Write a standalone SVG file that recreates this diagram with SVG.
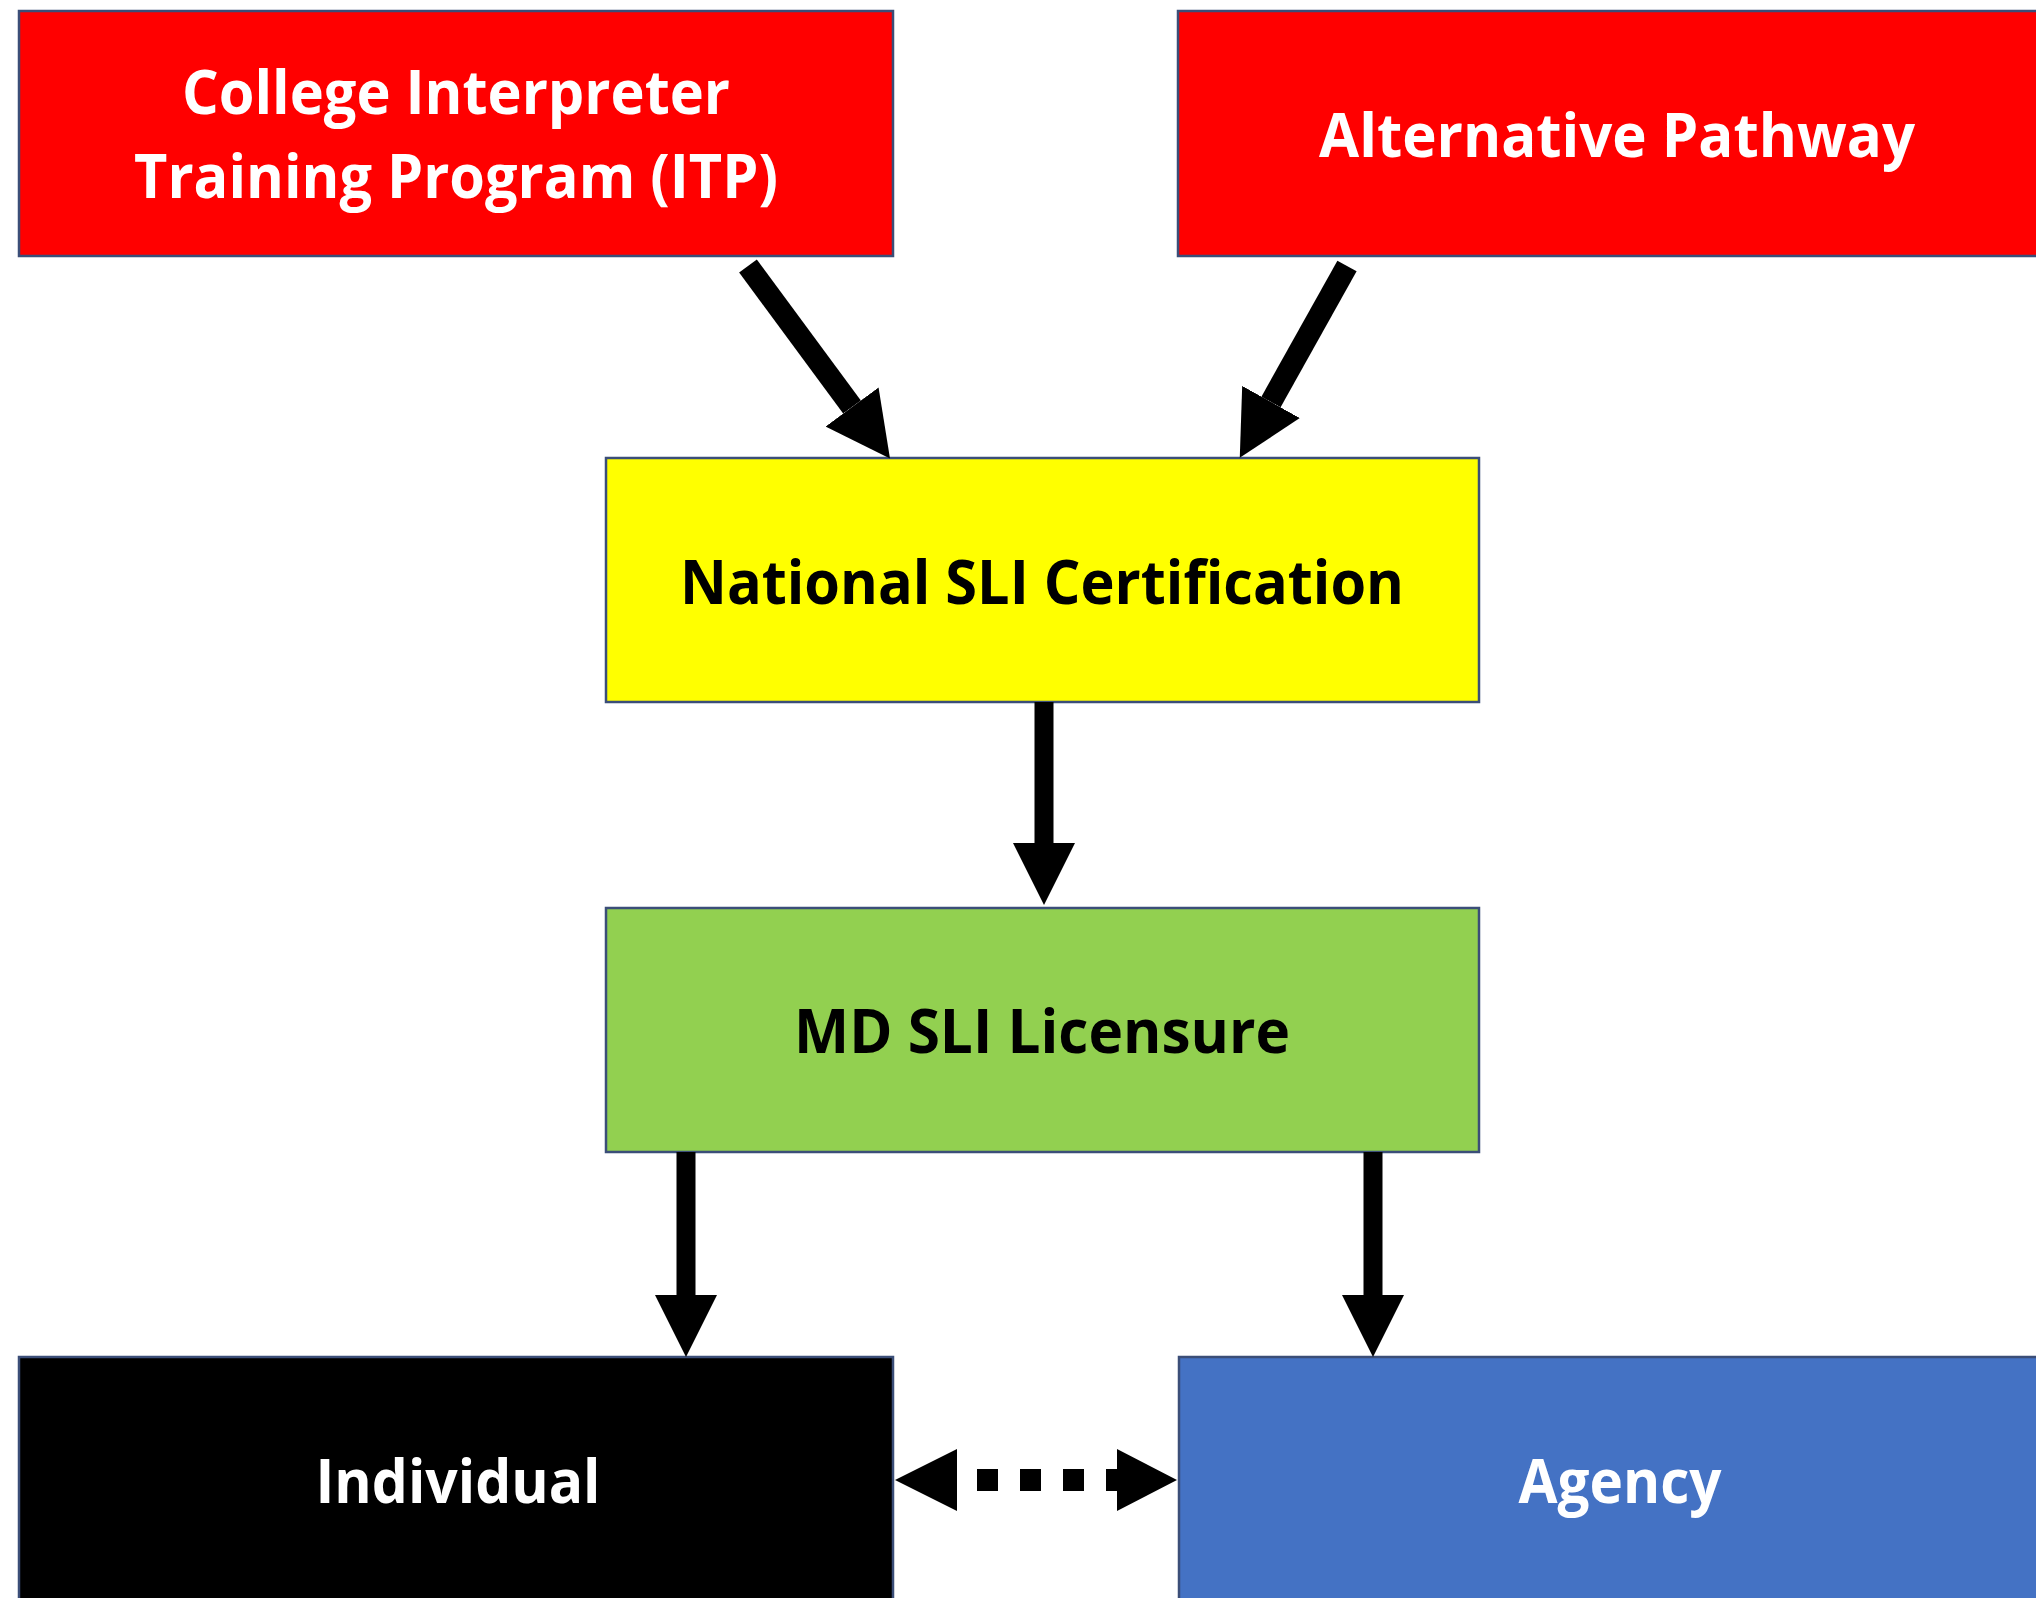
<svg xmlns="http://www.w3.org/2000/svg" width="2036" height="1598" viewBox="0 0 2036 1598">
  <style>
    .box { stroke: #3B4E78; stroke-width: 2.5; }
    .lbl { font-family: "Open Sans", "Liberation Sans", sans-serif; font-weight: 700; font-size: 60px; text-anchor: middle; }
    .w { fill: #FFFFFF; }
    .k { fill: #000000; }
    .conn { stroke: #000000; stroke-width: 19; fill: none; stroke-linecap: butt; }
    .diag { stroke-width: 22; }
    .head { fill: #000000; }
  </style>
  <defs>
    <marker id="ah" markerUnits="userSpaceOnUse" viewBox="0 0 62 62" markerWidth="62" markerHeight="62" refX="0" refY="31" orient="auto">
      <path d="M0,0 L62,31 L0,62 Z" fill="#000000"/>
    </marker>
    <marker id="ahd" markerUnits="userSpaceOnUse" viewBox="0 0 64 66" markerWidth="64" markerHeight="66" refX="0" refY="33" orient="auto">
      <path d="M0,0 L64,33 L0,66 Z" fill="#000000"/>
    </marker>
  </defs>
  <rect x="0" y="0" width="2036" height="1598" fill="#FFFFFF"/>

  <g id="node-itp">
    <rect class="box" x="19" y="11" width="874" height="245" fill="#FF0000"/>
    <text class="lbl w" x="456" y="114" textLength="548" lengthAdjust="spacingAndGlyphs">College Interpreter</text>
    <text class="lbl w" x="456" y="198" textLength="644" lengthAdjust="spacingAndGlyphs">Training Program (ITP)</text>
  </g>

  <g id="node-alt">
    <rect class="box" x="1178" y="11" width="870" height="245" fill="#FF0000"/>
    <text class="lbl w" x="1617" y="157" textLength="596" lengthAdjust="spacingAndGlyphs">Alternative Pathway</text>
  </g>

  <g id="node-national">
    <rect class="box" x="606" y="458" width="873" height="244" fill="#FFFF00"/>
    <text class="lbl k" x="1042" y="604" textLength="724" lengthAdjust="spacingAndGlyphs">National SLI Certification</text>
  </g>

  <g id="node-md">
    <rect class="box" x="606" y="908" width="873" height="244" fill="#92D050"/>
    <text class="lbl k" x="1042" y="1053" textLength="496" lengthAdjust="spacingAndGlyphs">MD SLI Licensure</text>
  </g>

  <g id="node-individual">
    <rect class="box" x="19" y="1357" width="874" height="260" fill="#000000"/>
    <text class="lbl w" x="458" y="1503" textLength="285" lengthAdjust="spacingAndGlyphs">Individual</text>
  </g>

  <g id="node-agency">
    <rect class="box" x="1179" y="1357" width="870" height="260" fill="#4472C4"/>
    <text class="lbl w" x="1620" y="1503" textLength="203" lengthAdjust="spacingAndGlyphs">Agency</text>
  </g>

  <g id="connectors">
    <line class="conn diag" x1="748" y1="266" x2="852" y2="407" marker-end="url(#ahd)"/>
    <line class="conn diag" x1="1347" y1="266" x2="1271" y2="402" marker-end="url(#ahd)"/>
    <line class="conn" x1="1044" y1="702" x2="1044" y2="843" marker-end="url(#ah)"/>
    <line class="conn" x1="686" y1="1152" x2="686" y2="1295" marker-end="url(#ah)"/>
    <line class="conn" x1="1373" y1="1152" x2="1373" y2="1295" marker-end="url(#ah)"/>
    <g id="conn-individual-agency">
      <line x1="957" y1="1480" x2="1117" y2="1480" stroke="#000000" stroke-width="22" stroke-dasharray="21 22" stroke-dashoffset="23"/>
      <polygon class="head" points="895,1480 957,1449 957,1511"/>
      <polygon class="head" points="1177,1480 1117,1449 1117,1511"/>
    </g>
  </g>
</svg>
